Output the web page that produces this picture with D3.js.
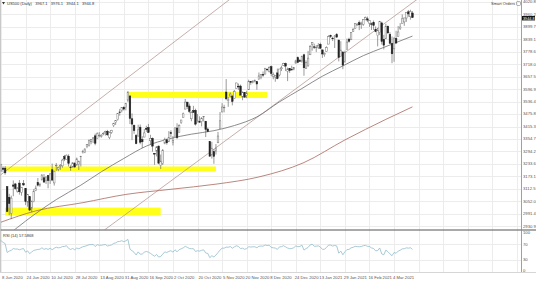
<!DOCTYPE html>
<meta charset="utf-8">
<script src="https://d3js.org/d3.v7.min.js"></script>
<style>
  body { margin: 0; background: #fff; }
  svg { display: block; font-family: 'Liberation Sans', Arial, sans-serif; }
</style>
<body>
<svg width="536" height="284"></svg>
<script>
// ---- data (daily bars, US500 CFD) ----
var dates = [
  "2020-06-01","2020-06-02","2020-06-03","2020-06-04","2020-06-05","2020-06-08","2020-06-09","2020-06-10","2020-06-11","2020-06-12","2020-06-15","2020-06-16","2020-06-17","2020-06-18","2020-06-19","2020-06-22","2020-06-23","2020-06-24","2020-06-25","2020-06-26","2020-06-29","2020-06-30",
  "2020-07-01","2020-07-02","2020-07-03","2020-07-06","2020-07-07","2020-07-08","2020-07-09","2020-07-10","2020-07-13","2020-07-14","2020-07-15","2020-07-16","2020-07-17","2020-07-20","2020-07-21","2020-07-22","2020-07-23","2020-07-24","2020-07-27","2020-07-28","2020-07-29","2020-07-30","2020-07-31",
  "2020-08-03","2020-08-04","2020-08-05","2020-08-06","2020-08-07","2020-08-10","2020-08-11","2020-08-12","2020-08-13","2020-08-14","2020-08-17","2020-08-18","2020-08-19","2020-08-20","2020-08-21","2020-08-24","2020-08-25","2020-08-26","2020-08-27","2020-08-28","2020-08-31",
  "2020-09-01","2020-09-02","2020-09-03","2020-09-04","2020-09-07","2020-09-08","2020-09-09","2020-09-10","2020-09-11","2020-09-14","2020-09-15","2020-09-16","2020-09-17","2020-09-18","2020-09-21","2020-09-22","2020-09-23","2020-09-24","2020-09-25","2020-09-28","2020-09-29","2020-09-30",
  "2020-10-01","2020-10-02","2020-10-05","2020-10-06","2020-10-07","2020-10-08","2020-10-09","2020-10-12","2020-10-13","2020-10-14","2020-10-15","2020-10-16","2020-10-19","2020-10-20","2020-10-21","2020-10-22","2020-10-23","2020-10-26","2020-10-27","2020-10-28","2020-10-29","2020-10-30",
  "2020-11-02","2020-11-03","2020-11-04","2020-11-05","2020-11-06","2020-11-09","2020-11-10","2020-11-11","2020-11-12","2020-11-13","2020-11-16","2020-11-17","2020-11-18","2020-11-19","2020-11-20","2020-11-23","2020-11-24","2020-11-25","2020-11-26","2020-11-27","2020-11-30",
  "2020-12-01","2020-12-02","2020-12-03","2020-12-04","2020-12-07","2020-12-08","2020-12-09","2020-12-10","2020-12-11","2020-12-14","2020-12-15","2020-12-16","2020-12-17","2020-12-18","2020-12-21","2020-12-22","2020-12-23","2020-12-24","2020-12-28","2020-12-29","2020-12-30","2020-12-31",
  "2021-01-04","2021-01-05","2021-01-06","2021-01-07","2021-01-08","2021-01-11","2021-01-12","2021-01-13","2021-01-14","2021-01-15","2021-01-18","2021-01-19","2021-01-20","2021-01-21","2021-01-22","2021-01-25","2021-01-26","2021-01-27","2021-01-28","2021-01-29",
  "2021-02-01","2021-02-02","2021-02-03","2021-02-04","2021-02-05","2021-02-08","2021-02-09","2021-02-10","2021-02-11","2021-02-12","2021-02-15","2021-02-16","2021-02-17","2021-02-18","2021-02-19","2021-02-22","2021-02-23","2021-02-24","2021-02-25","2021-02-26",
  "2021-03-01","2021-03-02","2021-03-03","2021-03-04","2021-03-05","2021-03-08","2021-03-09","2021-03-10","2021-03-11","2021-03-12","2021-03-15","2021-03-16","2021-03-17","2021-03-18"
];
var open = [
  3038,3064,3098,3112,3163,3199,3213,3213,3123,3071,2993,3131,3136,3101,3140,3095,3138,3114,3047,3074,3018,3050,
  3105,3143,3130,3155,3166,3154,3176,3152,3205,3141,3226,3208,3224,3224,3269,3254,3271,3218,3219,3235,3227,3231,3270,
  3288,3289,3317,3323,3341,3357,3370,3356,3373,3368,3380,3387,3392,3361,3386,3419,3435,3449,3486,3494,3509,
  3508,3543,3564,3453,3420,3371,3369,3412,3352,3364,3407,3411,3346,3358,3285,3295,3320,3226,3236,3334,3350,3341,
  3385,3338,3368,3408,3385,3434,3459,3500,3534,3515,3453,3493,3494,3439,3439,3439,3464,3441,3403,3342,3277,3293,
  3296,3336,3406,3486,3509,3583,3543,3564,3563,3552,3600,3611,3612,3559,3580,3567,3594,3635,3630,3638,3634,
  3645,3653,3668,3670,3694,3683,3706,3659,3656,3676,3666,3696,3713,3722,3684,3698,3693,3694,3723,3750,3736,3733,
  3764,3698,3712,3764,3815,3803,3801,3802,3815,3788,3765,3781,3816,3857,3845,3852,3862,3836,3755,3778,
  3732,3791,3840,3837,3878,3893,3910,3920,3916,3912,3935,3939,3918,3915,3921,3886,3857,3873,3919,3839,
  3842,3903,3863,3818,3793,3844,3852,3891,3916,3924,3943,3973,3949,3967.1
];
var high = [
  3063,3081,3131,3128,3211,3233,3222,3223,3123,3088,3079,3153,3141,3121,3155,3120,3155,3115,3086,3074,3053,3111,
  3128,3165,3142,3182,3184,3171,3179,3187,3235,3200,3238,3220,3233,3258,3277,3279,3280,3227,3242,3243,3264,3250,3272,
  3302,3306,3330,3351,3352,3364,3381,3387,3388,3378,3388,3395,3399,3391,3399,3433,3444,3481,3501,3509,3514,
  3528,3588,3564,3479,3425,3379,3424,3425,3368,3403,3419,3428,3375,3362,3286,3320,3323,3279,3306,3361,3357,3393,
  3397,3369,3409,3431,3426,3447,3483,3549,3534,3527,3489,3516,3502,3476,3465,3461,3466,3441,3410,3342,3341,3305,
  3330,3389,3486,3529,3521,3646,3558,3581,3569,3593,3628,3624,3619,3586,3582,3589,3643,3635,3640,3644,3635,
  3678,3670,3683,3699,3698,3708,3712,3678,3665,3697,3695,3711,3725,3726,3702,3698,3711,3703,3740,3756,3744,3760,
  3769,3737,3783,3811,3826,3818,3811,3821,3823,3788,3775,3805,3859,3862,3852,3860,3870,3836,3830,3778,
  3784,3843,3847,3872,3894,3916,3919,3931,3925,3937,3950,3950,3933,3921,3931,3902,3895,3929,3925,3861,
  3915,3906,3874,3853,3851,3881,3904,3918,3960,3944,3970,3982,3983,3976.1
];
var low = [
  3032,3052,3091,3090,3163,3196,3193,3181,2999,2984,2965,3076,3108,3094,3084,3079,3127,3033,3025,3004,2999,3047,
  3101,3124,3122,3155,3143,3136,3115,3136,3149,3128,3200,3198,3205,3215,3247,3253,3221,3200,3215,3217,3227,3204,3221,
  3284,3286,3310,3318,3329,3335,3324,3355,3363,3361,3373,3371,3370,3354,3380,3413,3423,3444,3468,3484,3493,
  3494,3535,3427,3349,3380,3329,3367,3329,3311,3363,3389,3384,3328,3293,3229,3270,3232,3209,3228,3329,3327,3340,
  3362,3323,3367,3354,3385,3428,3458,3499,3500,3480,3441,3483,3420,3435,3434,3416,3440,3364,3388,3268,3259,3234,
  3279,3336,3405,3485,3484,3543,3511,3557,3518,3552,3600,3594,3567,3543,3556,3553,3594,3618,3625,3630,3594,
  3645,3645,3657,3670,3684,3678,3660,3645,3633,3645,3659,3685,3710,3685,3636,3676,3689,3689,3723,3723,3730,3726,
  3662,3695,3705,3764,3784,3792,3777,3792,3793,3749,3755,3780,3816,3846,3831,3797,3847,3732,3755,3694,
  3725,3791,3823,3837,3875,3892,3907,3884,3890,3905,3932,3923,3900,3885,3885,3874,3805,3860,3814,3790,
  3842,3868,3819,3723,3730,3819,3852,3885,3916,3905,3924,3949,3935,3944.1
];
var close = [
  3056,3081,3123,3112,3194,3232,3207,3190,3002,3041,3067,3125,3113,3115,3098,3118,3131,3050,3084,3009,3053,3100,
  3116,3130,3134,3180,3145,3170,3152,3185,3155,3198,3227,3216,3225,3252,3257,3276,3236,3216,3239,3218,3258,3246,3271,
  3295,3307,3328,3349,3351,3360,3334,3380,3373,3373,3382,3390,3375,3385,3397,3431,3444,3479,3485,3508,3500,
  3527,3581,3455,3427,3395,3332,3399,3339,3341,3384,3401,3386,3357,3320,3281,3316,3237,3247,3298,3352,3336,3363,
  3381,3348,3409,3361,3419,3447,3477,3534,3512,3489,3483,3484,3427,3443,3436,3454,3465,3401,3391,3271,3310,3270,
  3310,3369,3443,3510,3509,3550,3545,3573,3537,3585,3627,3610,3568,3582,3558,3578,3635,3630,3636,3638,3622,
  3662,3669,3667,3699,3692,3702,3673,3668,3664,3648,3695,3701,3722,3709,3695,3687,3690,3703,3735,3727,3732,3756,
  3701,3727,3748,3804,3825,3800,3801,3810,3796,3768,3770,3799,3852,3853,3842,3855,3850,3751,3787,3714,
  3774,3826,3830,3872,3887,3916,3911,3910,3916,3935,3945,3933,3931,3914,3907,3877,3881,3925,3829,3811,
  3902,3870,3820,3769,3842,3821,3875,3899,3939,3943,3969,3963,3974,3944.8
];
// May 2020 closes, only used to warm up the RSI
var preCloses = [2831,2843,2868,2848,2881,2930,2930,2870,2820,2853,2864,2954,2923,2972,2949,2955,2980,2992,3036,3030,3044];

// moving averages
var ma50 = [["2020-06-08",2860],["2020-06-30",2985],["2020-07-15",3060],["2020-07-31",3130],["2020-08-14",3195],
  ["2020-08-31",3260],["2020-09-15",3320],["2020-09-30",3355],["2020-10-15",3378],["2020-10-30",3395],
  ["2020-11-13",3420],["2020-11-30",3462],["2020-12-15",3535],["2020-12-31",3600],["2021-01-15",3660],
  ["2021-01-29",3710],["2021-02-12",3760],["2021-02-26",3800],["2021-03-18",3855]];
var ma200 = [["2020-06-08",2950],["2020-07-01",3005],["2020-08-03",3045],["2020-09-01",3085],["2020-10-01",3110],
  ["2020-11-02",3135],["2020-12-01",3170],["2021-01-04",3240],["2021-02-01",3350],["2021-03-01",3450],["2021-03-18",3511]];

// drawn objects
var channelUpper = [["2020-06-11",3204],["2020-08-21",3593]];
var channelLower = [["2020-10-07",3180],["2021-02-10",3826]];
var zones = [
  ["2020-09-02","2020-12-07",3583,3554],
  ["2020-06-10","2020-11-02",3221,3197],
  ["2020-06-10","2020-09-24",3021,2982]
];

var priceTicks = [4020.8,3960.2,3899.7,3839.1,3778.6,3718.0,3657.5,3596.9,3536.4,3475.8,3415.3,3354.7,3294.2,3233.6,3173.1,3112.5,3052.0,2991.4,2930.9];
var dateTicks = ["2020-06-08","2020-06-24","2020-07-10","2020-07-28","2020-08-13","2020-08-31","2020-09-16","2020-10-02","2020-10-20","2020-11-05","2020-11-20","2020-12-08","2020-12-24","2021-01-13","2021-01-29","2021-02-16","2021-03-04"];
var rsiTicks = [100,70,30,0];
var header = ["US500 (Daily)", "3967.1", "3976.1", "3944.1", "3944.8"];
var rsiLabel = "RSI (14) 57.5868";

// ---- layout ----
var svg = d3.select("svg");
var plotR = 521, mainB = 229.5, rsiT = 231, rsiB = 272;
var idx = function(d) { return dates.indexOf(d); };

var x = d3.scaleLinear().domain([idx("2020-06-08"), idx("2021-03-04")]).range([1, 392]);
var y = d3.scaleLinear().domain([2916.9, 4030.5]).range([229, 0]);
var yR = d3.scaleLinear().domain([0, 100]).range([rsiB - 1, rsiT + 2]);

svg.append("clipPath").attr("id", "cm").append("rect").attr("width", plotR).attr("height", mainB);
svg.append("clipPath").attr("id", "cr").append("rect").attr("y", rsiT).attr("width", plotR).attr("height", rsiB - rsiT);

// grid
var gridX = [];
for (var k = idx(dateTicks[0]); x(k) < plotR; k += 12) gridX.push(x(k));
var grid = svg.append("g").attr("stroke", "#ececec").attr("stroke-width", 1);
grid.selectAll(".gx").data(gridX).enter().append("line")
  .attr("x1", function(d) { return Math.round(d) + 0.5; }).attr("x2", function(d) { return Math.round(d) + 0.5; })
  .attr("y1", 0).attr("y2", rsiB);
grid.selectAll(".gy").data(priceTicks).enter().append("line")
  .attr("x1", 0).attr("x2", plotR)
  .attr("y1", function(d) { return Math.round(y(d)) + 0.5; }).attr("y2", function(d) { return Math.round(y(d)) + 0.5; });
grid.selectAll(".gr").data([70, 30]).enter().append("line")
  .attr("x1", 0).attr("x2", plotR)
  .attr("y1", function(d) { return Math.round(yR(d)) + 0.5; }).attr("y2", function(d) { return Math.round(yR(d)) + 0.5; });

var main = svg.append("g").attr("clip-path", "url(#cm)");

// yellow zones
main.selectAll(".zone").data(zones).enter().append("rect")
  .attr("x", function(d) { return x(idx(d[0])); })
  .attr("width", function(d) { return x(idx(d[1])) - x(idx(d[0])); })
  .attr("y", function(d) { return y(d[2]); })
  .attr("height", function(d) { return y(d[3]) - y(d[2]); })
  .attr("fill", "#ffff1a");

// trend lines, extended over the pane
function extLine(p) {
  var i0 = idx(p[0][0]), i1 = idx(p[1][0]);
  var s = (p[1][1] - p[0][1]) / (i1 - i0);
  var a = x.invert(0), b = x.invert(plotR);
  return [[0, y(p[0][1] + (a - i0) * s)], [plotR, y(p[0][1] + (b - i0) * s)]];
}
[channelUpper, channelLower].forEach(function(p) {
  main.append("path").attr("d", d3.line()(extLine(p)))
    .attr("fill", "none").attr("stroke", "#b89a96").attr("stroke-width", 0.8);
});

// moving averages
var maLine = d3.line().curve(d3.curveMonotoneX)
  .x(function(d) { return x(idx(d[0])); }).y(function(d) { return y(d[1]); });
main.append("path").datum(ma200).attr("d", maLine)
  .attr("fill", "none").attr("stroke", "#a8685e").attr("stroke-width", 0.8);
main.append("path").datum(ma50).attr("d", maLine)
  .attr("fill", "none").attr("stroke", "#6e6e6e").attr("stroke-width", 0.8);

// candles
var bars = main.selectAll(".bar").data(dates).enter().append("g");
bars.append("line")
  .attr("x1", function(d, i) { return x(i); }).attr("x2", function(d, i) { return x(i); })
  .attr("y1", function(d, i) { return y(high[i]); }).attr("y2", function(d, i) { return y(low[i]); })
  .attr("stroke", "#555").attr("stroke-width", 0.6);
bars.append("rect")
  .attr("x", function(d, i) { return x(i) - 0.8; }).attr("width", 1.6)
  .attr("y", function(d, i) { return y(Math.max(open[i], close[i])); })
  .attr("height", function(d, i) { return Math.max(0.6, Math.abs(y(open[i]) - y(close[i]))); })
  .attr("fill", function(d, i) { return close[i] >= open[i] ? "#fff" : "#222"; })
  .attr("stroke", function(d, i) { return close[i] >= open[i] ? "#777" : "#222"; })
  .attr("stroke-width", 0.5);

// RSI(14), Wilder smoothing
var all = preCloses.concat(close), n = 14, ag = 0, al = 0, rsi = [];
for (var j = 1; j < all.length; j++) {
  var ch = all[j] - all[j - 1], g = Math.max(ch, 0), l = Math.max(-ch, 0);
  if (j <= n) { ag += g / n; al += l / n; }
  else { ag = (ag * (n - 1) + g) / n; al = (al * (n - 1) + l) / n; }
  var bi = j - preCloses.length;
  if (bi >= 0) rsi.push([bi, al === 0 ? 100 : 100 - 100 / (1 + ag / al)]);
}
svg.append("g").attr("clip-path", "url(#cr)").append("path").datum(rsi)
  .attr("d", d3.line().x(function(d) { return x(d[0]); }).y(function(d) { return yR(d[1]); }))
  .attr("fill", "none").attr("stroke", "#92bccb").attr("stroke-width", 0.8);

// frame
svg.append("line").attr("x1", 0).attr("x2", 536).attr("y1", mainB + 0.5).attr("y2", mainB + 0.5).attr("stroke", "#555").attr("stroke-width", 1);
svg.append("line").attr("x1", 0).attr("x2", 536).attr("y1", rsiB + 0.5).attr("y2", rsiB + 0.5).attr("stroke", "#bbb").attr("stroke-width", 0.6);
svg.append("line").attr("x1", plotR + 0.5).attr("x2", plotR + 0.5).attr("y1", 0).attr("y2", rsiB).attr("stroke", "#888").attr("stroke-width", 0.8);
svg.append("line").attr("x1", 0.5).attr("x2", 0.5).attr("y1", 0).attr("y2", rsiB).attr("stroke", "#bbb").attr("stroke-width", 0.8);

// axes text
var last = close[close.length - 1];
var ax = svg.append("g").attr("font-size", 4.2).attr("fill", "#555");
ax.selectAll(".pt").data(priceTicks).enter().append("text")
  .attr("x", plotR + 2).attr("y", function(d) { return y(d) + 1.4; })
  .text(function(d) { return d.toFixed(1); });
ax.selectAll(".rt").data(rsiTicks).enter().append("text")
  .attr("x", plotR + 2).attr("y", function(d) { return yR(d) + 1.4; })
  .text(function(d) { return d; });
var fmt = d3.timeFormat("%-d %b %Y"), parse = d3.timeParse("%Y-%m-%d");
ax.selectAll(".dt").data(dateTicks).enter().append("text")
  .attr("x", function(d) { return x(idx(d)) + 1; }).attr("y", 279)
  .text(function(d) { return fmt(parse(d)); });

// current price tag
svg.append("rect").attr("x", plotR + 1).attr("y", y(last) - 1.6).attr("width", 13).attr("height", 4.4).attr("fill", "#111");
svg.append("text").attr("x", plotR + 2).attr("y", y(last) + 1.9).attr("font-size", 3.8).attr("fill", "#fff").text(last.toFixed(1));

// header texts
svg.append("path").attr("d", "M2,2 L5,2 L3.5,4.5 Z").attr("fill", "#333");
svg.append("text").attr("x", 7).attr("y", 4.5).attr("font-size", 4).attr("fill", "#333")
  .attr("xml:space", "preserve").text(header.join("   "));
svg.append("text").attr("x", 515).attr("y", 4.5).attr("font-size", 4).attr("fill", "#333")
  .attr("text-anchor", "end").text("Smart Orders");
svg.append("rect").attr("x", 516.5).attr("y", 1.5).attr("width", 4).attr("height", 4).attr("rx", 1)
  .attr("fill", "none").attr("stroke", "#666").attr("stroke-width", 0.5);
svg.append("text").attr("x", 3).attr("y", rsiT + 5.5).attr("font-size", 4).attr("fill", "#333")
  .text(rsiLabel);
</script>
</body>
